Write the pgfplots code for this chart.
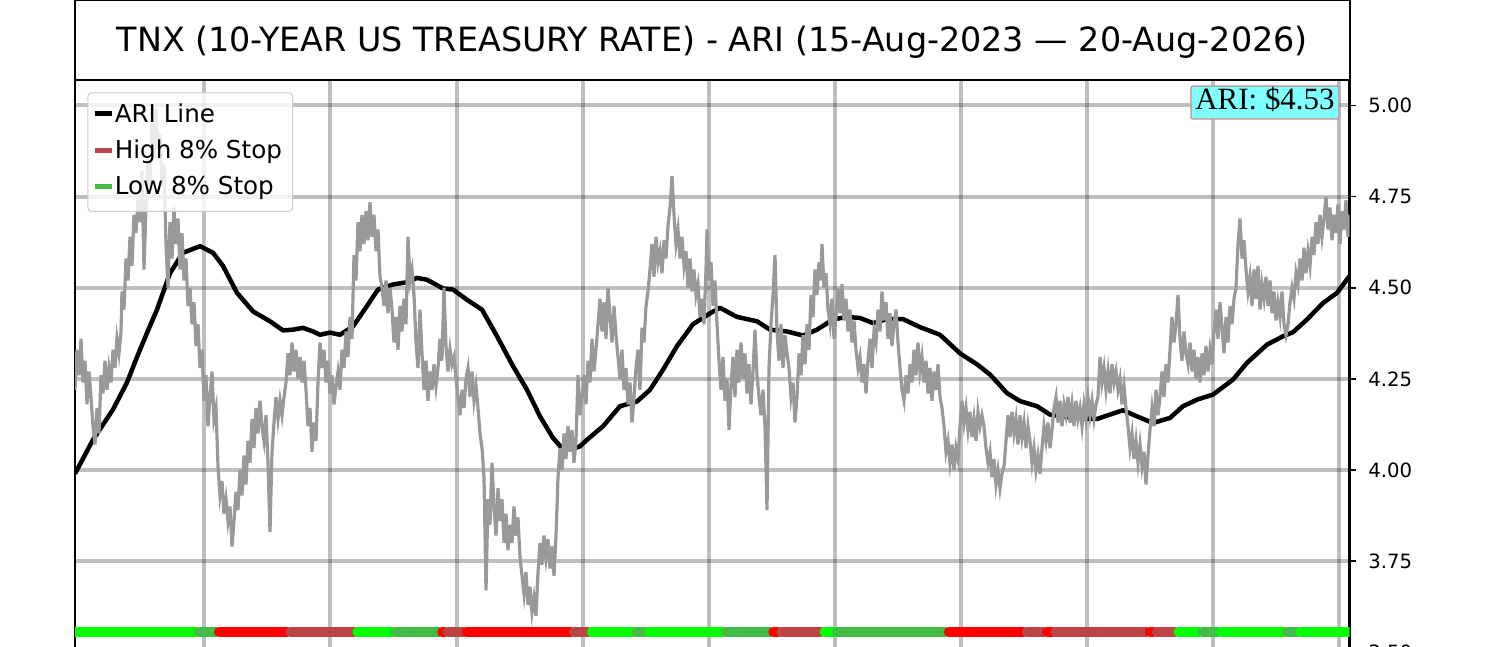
\documentclass[border=0pt]{standalone}
\usepackage{fontspec}
\setmainfont{DejaVu Sans}
\newfontfamily\serifont{Liberation Serif}
\usepackage{pgfplots}
\pgfplotsset{compat=1.18}
\definecolor{brownred}{HTML}{BB4444}
\definecolor{dkgreen}{HTML}{44BB44}
\definecolor{ltgreen}{HTML}{00FF00}
\definecolor{grayline}{HTML}{999999}
\definecolor{labelfill}{HTML}{80FFFF}
\definecolor{labeledge}{HTML}{C88C8C}
\definecolor{legedge}{HTML}{CCCCCC}
\begin{document}
\begin{tikzpicture}
\useasboundingbox (0,0) rectangle (15,6.47);
\draw[line width=0.02cm] (0.75,5.67) rectangle (13.495,6.47);
\node[font=\fontsize{9.5}{11}\selectfont, anchor=center, inner sep=0pt] at (7.1225,6.05) {TNX (10-YEAR US TREASURY RATE) - ARI (15-Aug-2023 — 20-Aug-2026)};
\begin{axis}[
  at={(0.75cm,5.67cm)}, anchor=north west,
  scale only axis, width=12.745cm, height=5.905cm,
  xmin=0, xmax=1274.5, ymin=3.45, ymax=5.07,
  axis line style={line width=0.022cm, black},
  ytick={3.5,3.75,4,4.25,4.5,4.75,5},
  yticklabel pos=right, ytick pos=right,
  tick align=outside, major tick length=0.065cm,
  ytick style={line width=0.015cm, black},
  xtick={129.3,255.4,381.5,507.6,633.7,759.8,885.9,1012.0,1138.1,1264.2},
  xticklabels={}, xtick style={draw=none},
  grid=major, major grid style={line width=0.04cm, black, opacity=0.25},
  yticklabel style={font=\fontsize{5.6}{6}\selectfont},
  /pgf/number format/fixed, /pgf/number format/fixed zerofill,
  /pgf/number format/precision=2, /pgf/number format/assume math mode=true,
  legend cell align=left,
  legend image code/.code={\draw[#1, line width=0.05cm] (0cm,0.02cm) -- (0.17cm,0.02cm);},
  legend style={at={(0.00965,0.9792)}, anchor=north west, draw=legedge, line width=0.01cm,
    fill=white, fill opacity=0.8, draw opacity=1, text opacity=1, rounded corners=0.04cm,
    inner xsep=0.05cm, inner ysep=0.115cm, row sep=0.133cm,
    font=\fontsize{7}{8}\selectfont,
    nodes={inner xsep=0cm, inner ysep=0pt, text height=0.18cm, text depth=0.05cm}},
]
% stop band
\addplot[forget plot, ltgreen, line width=0.1cm, line cap=round] coordinates {(-5,3.556)(121,3.556)};
\addplot[forget plot, dkgreen, line width=0.1cm, line cap=round] coordinates {(124,3.556)(141,3.556)};
\addplot[forget plot, red, line width=0.1cm, line cap=round] coordinates {(144,3.556)(212.4,3.556)};
\addplot[forget plot, brownred, line width=0.1cm, line cap=round] coordinates {(215.4,3.556)(279.4,3.556)};
\addplot[forget plot, ltgreen, line width=0.1cm, line cap=round] coordinates {(282.4,3.556)(317.4,3.556)};
\addplot[forget plot, dkgreen, line width=0.1cm, line cap=round] coordinates {(320.4,3.556)(364.2,3.556)};
\addplot[forget plot, red, line width=0.1cm, line cap=round] coordinates {(367.2,3.556)(370,3.556)};
\addplot[forget plot, brownred, line width=0.1cm, line cap=round] coordinates {(373,3.556)(388.8,3.556)};
\addplot[forget plot, red, line width=0.1cm, line cap=round] coordinates {(391.8,3.556)(495.9,3.556)};
\addplot[forget plot, brownred, line width=0.1cm, line cap=round] coordinates {(498.9,3.556)(513.8,3.556)};
\addplot[forget plot, ltgreen, line width=0.1cm, line cap=round] coordinates {(516.8,3.556)(558.4,3.556)};
\addplot[forget plot, dkgreen, line width=0.1cm, line cap=round] coordinates {(561.4,3.556)(571.8,3.556)};
\addplot[forget plot, ltgreen, line width=0.1cm, line cap=round] coordinates {(574.8,3.556)(647.7,3.556)};
\addplot[forget plot, dkgreen, line width=0.1cm, line cap=round] coordinates {(650.7,3.556)(695.2,3.556)};
\addplot[forget plot, red, line width=0.1cm, line cap=round] coordinates {(698.2,3.556)(703.3,3.556)};
\addplot[forget plot, brownred, line width=0.1cm, line cap=round] coordinates {(706.3,3.556)(746.4,3.556)};
\addplot[forget plot, ltgreen, line width=0.1cm, line cap=round] coordinates {(749.4,3.556)(759.3,3.556)};
\addplot[forget plot, dkgreen, line width=0.1cm, line cap=round] coordinates {(762.3,3.556)(870.8,3.556)};
\addplot[forget plot, red, line width=0.1cm, line cap=round] coordinates {(873.8,3.556)(948.8,3.556)};
\addplot[forget plot, brownred, line width=0.1cm, line cap=round] coordinates {(951.8,3.556)(968.9,3.556)};
\addplot[forget plot, red, line width=0.1cm, line cap=round] coordinates {(971.9,3.556)(977.5,3.556)};
\addplot[forget plot, brownred, line width=0.1cm, line cap=round] coordinates {(980.5,3.556)(1071.7,3.556)};
\addplot[forget plot, red, line width=0.1cm, line cap=round] coordinates {(1074.7,3.556)(1078.9,3.556)};
\addplot[forget plot, brownred, line width=0.1cm, line cap=round] coordinates {(1081.9,3.556)(1100.4,3.556)};
\addplot[forget plot, ltgreen, line width=0.1cm, line cap=round] coordinates {(1103.4,3.556)(1124.4,3.556)};
\addplot[forget plot, dkgreen, line width=0.1cm, line cap=round] coordinates {(1127.4,3.556)(1143.5,3.556)};
\addplot[forget plot, ltgreen, line width=0.1cm, line cap=round] coordinates {(1146.5,3.556)(1209,3.556)};
\addplot[forget plot, dkgreen, line width=0.1cm, line cap=round] coordinates {(1212,3.556)(1222.5,3.556)};
\addplot[forget plot, ltgreen, line width=0.1cm, line cap=round] coordinates {(1225.5,3.556)(1285,3.556)};
% ARI line
\addplot[black, line width=0.045cm, line join=round] coordinates {
(0,3.99)(18,4.083)(38,4.166)(52,4.24)(62,4.31)(72,4.376)(82,4.44)(95,4.54)(108,4.596)(125,4.614)(138,4.596)(148,4.56)(162,4.486)(178,4.435)(195,4.408)(208,4.383)(218,4.385)(228,4.39)(238,4.38)(245,4.371)(255,4.377)(265,4.371)(278,4.394)(292,4.45)(303,4.495)(318,4.509)(332,4.515)(342,4.527)(352,4.522)(368,4.498)(378,4.495)(392,4.467)(407,4.44)(422,4.367)(438,4.285)(452,4.22)(465,4.147)(478,4.088)(487,4.06)(495,4.056)(505,4.065)(512,4.083)(528,4.12)(545,4.175)(562,4.188)(575,4.22)(588,4.275)(602,4.34)(618,4.40)(635,4.43)(645,4.445)(662,4.42)(682,4.408)(695,4.385)(712,4.38)(728,4.369)(742,4.385)(758,4.413)(772,4.42)(785,4.417)(798,4.403)(812,4.414)(828,4.414)(845,4.392)(865,4.371)(885,4.32)(902,4.29)(915,4.262)(932,4.211)(945,4.189)(962,4.175)(975,4.152)(992,4.145)(1005,4.142)(1022,4.14)(1035,4.152)(1048,4.164)(1062,4.147)(1078,4.129)(1095,4.143)(1108,4.175)(1122,4.193)(1138,4.207)(1158,4.248)(1172,4.294)(1192,4.344)(1208,4.367)(1218,4.378)(1232,4.413)(1248,4.458)(1262,4.486)(1274.5,4.532)};
\addlegendentry{ARI Line}
\addlegendimage{brownred}
\addlegendentry{High 8\% Stop\hspace*{0.057cm}}
\addlegendimage{dkgreen}
\addlegendentry{Low 8\% Stop}
% TNX series
\addplot[forget plot, grayline, line width=0.032cm] coordinates {
(0,4.22)(2,4.33)(4,4.26)(6,4.36)(8,4.24)(10,4.30)(12,4.18)(14,4.27)(16,4.20)(18,4.12)(20,4.07)(22,4.17)(24,4.10)(26,4.26)(28,4.21)(30,4.30)(32,4.22)(34,4.28)(36,4.24)(38,4.33)(40,4.28)(42,4.36)(44,4.32)(46,4.38)(47,4.49)(49,4.44)(51,4.58)(53,4.52)(55,4.64)(57,4.56)(59,4.70)(61,4.65)(63,4.74)(65,4.68)(67,4.82)(69,4.55)(71,4.72)(73,4.86)(75,4.78)(77,4.95)(79,4.85)(81,4.99)(83,4.88)(85,4.92)(87,4.78)(89,4.84)(91,4.62)(93,4.50)(95,4.68)(97,4.58)(99,4.72)(101,4.62)(103,4.69)(105,4.55)(107,4.65)(109,4.52)(111,4.58)(113,4.45)(115,4.50)(117,4.40)(119,4.46)(121,4.34)(123,4.40)(125,4.28)(127,4.33)(129,4.19)(131,4.26)(133,4.12)(135,4.20)(137,4.27)(139,4.14)(141,4.17)(143,4.01)(145,3.93)(147,3.97)(149,3.88)(151,3.92)(153,3.86)(155,3.90)(157,3.79)(159,3.86)(161,3.94)(163,3.89)(165,4.00)(167,3.93)(169,4.04)(171,3.96)(173,4.08)(175,4.02)(177,4.14)(179,4.06)(181,4.17)(183,4.10)(185,4.19)(187,4.12)(189,4.08)(191,4.15)(193,4.02)(195,3.83)(197,4.05)(199,4.13)(201,4.20)(203,4.14)(205,4.19)(207,4.15)(209,4.20)(211,4.24)(213,4.32)(215,4.26)(217,4.35)(219,4.27)(221,4.33)(223,4.25)(225,4.31)(227,4.24)(229,4.30)(231,4.22)(233,4.12)(235,4.17)(237,4.05)(239,4.13)(241,4.08)(243,4.24)(245,4.35)
(247,4.28)(249,4.33)(251,4.24)(253,4.30)(255,4.21)(257,4.26)(259,4.18)(261,4.23)(263,4.27)(265,4.22)(267,4.33)(269,4.28)(271,4.38)(273,4.31)(275,4.42)(277,4.36)(279,4.59)(281,4.52)(283,4.68)(285,4.60)(287,4.70)(289,4.62)(291,4.71)(293,4.63)(295,4.735)(297,4.64)(299,4.70)(301,4.60)(303,4.66)(305,4.53)(307,4.50)(309,4.45)(311,4.52)(313,4.43)(315,4.50)(317,4.44)(319,4.35)(321,4.42)(323,4.33)(325,4.45)(327,4.38)(329,4.47)(331,4.40)(333,4.64)(335,4.52)(337,4.55)(339,4.48)(341,4.35)(343,4.28)(345,4.44)(347,4.32)(349,4.22)(351,4.30)(353,4.19)(355,4.27)(357,4.22)(359,4.29)(361,4.23)(363,4.28)(365,4.36)(367,4.30)(369,4.50)(371,4.34)(373,4.27)(375,4.33)(377,4.29)(379,4.31)(381,4.25)(383,4.20)(385,4.15)(387,4.22)(389,4.17)(391,4.25)(393,4.28)(395,4.20)(397,4.27)(399,4.19)(401,4.23)(403,4.17)(405,4.10)(407,4.06)(409,3.98)(411,3.67)(413,3.92)(415,3.85)(417,4.02)(419,3.90)(421,3.82)(423,3.95)(425,3.86)(427,3.92)(429,3.80)(431,3.88)(433,3.78)(435,3.85)(437,3.80)(439,3.90)(441,3.82)(443,3.87)(445,3.76)(447,3.71)(449,3.66)(451,3.72)(453,3.63)(455,3.68)(457,3.61)(459,3.65)(461,3.60)(463,3.72)(465,3.80)(467,3.74)(469,3.82)(471,3.76)(473,3.81)(475,3.73)(477,3.79)(479,3.71)(481,3.82)(483,3.98)(485,4.06)(487,4.00)(489,4.10)(491,4.03)(493,4.12)(495,4.05)(497,4.11)(499,4.02)(501,4.08)(503,4.26)(505,4.15)
(507,4.20)(509,4.26)(511,4.18)(513,4.30)(515,4.24)(517,4.36)(519,4.27)(521,4.33)(523,4.40)(525,4.47)(527,4.38)(529,4.46)(531,4.36)(533,4.50)(535,4.42)(537,4.35)(539,4.45)(541,4.37)(543,4.31)(545,4.25)(547,4.33)(549,4.22)(551,4.28)(553,4.18)(555,4.24)(557,4.13)(559,4.20)(561,4.28)(563,4.33)(565,4.22)(567,4.39)(569,4.35)(571,4.45)(573,4.49)(575,4.55)(577,4.62)(579,4.53)(581,4.64)(583,4.57)(585,4.60)(587,4.54)(589,4.63)(591,4.58)(593,4.67)(595,4.72)(597,4.806)(599,4.70)(601,4.62)(603,4.66)(605,4.58)(607,4.64)(609,4.56)(611,4.60)(613,4.50)(615,4.58)(617,4.49)(619,4.55)(621,4.48)(623,4.51)(625,4.42)(627,4.47)(629,4.40)(631,4.55)(632,4.66)(634,4.52)(636,4.57)(638,4.45)(640,4.52)(642,4.40)(644,4.30)(646,4.22)(648,4.31)(650,4.19)(652,4.25)(654,4.11)(656,4.23)(658,4.31)(660,4.20)(662,4.33)(664,4.24)(666,4.35)(668,4.25)(670,4.32)(672,4.21)(674,4.29)(676,4.18)(678,4.27)(680,4.385)(682,4.26)(684,4.20)(686,4.15)(688,4.22)(690,4.12)(692,3.89)(694,4.28)(696,4.40)(698,4.48)(700,4.59)(702,4.38)(704,4.30)(706,4.40)(708,4.28)(710,4.37)(712,4.32)(714,4.28)(716,4.20)(718,4.24)(720,4.13)(722,4.20)(724,4.32)(726,4.26)(728,4.37)(730,4.29)(732,4.40)(734,4.33)(736,4.48)(738,4.42)(740,4.55)(742,4.48)(744,4.57)(746,4.52)(747,4.62)(749,4.50)(751,4.54)(753,4.44)
(755,4.40)(757,4.47)(759,4.36)(761,4.42)(763,4.50)(765,4.43)(767,4.51)(769,4.41)(771,4.47)(773,4.38)(775,4.44)(777,4.35)(779,4.41)(781,4.33)(783,4.28)(785,4.31)(787,4.24)(789,4.29)(791,4.21)(793,4.30)(795,4.36)(797,4.28)(799,4.38)(801,4.35)(803,4.44)(805,4.38)(807,4.49)(809,4.41)(811,4.46)(813,4.36)(815,4.43)(817,4.34)(819,4.40)(821,4.44)(823,4.35)(825,4.28)(827,4.22)(829,4.19)(831,4.26)(833,4.21)(835,4.29)(837,4.24)(839,4.33)(841,4.26)(843,4.35)(845,4.27)(847,4.31)(849,4.24)(851,4.30)(853,4.21)(855,4.28)(857,4.19)(859,4.27)(861,4.22)(863,4.29)(865,4.20)(867,4.17)(869,4.12)(871,4.05)(873,4.08)(875,4.02)(877,4.07)(879,4.00)(881,4.06)(883,4.03)(885,4.12)(887,4.19)(889,4.13)(891,4.17)(893,4.11)(895,4.16)(897,4.09)(899,4.14)(901,4.08)(903,4.16)(905,4.12)(907,4.15)(909,4.12)(911,4.06)(913,4.02)(915,4.05)(917,3.98)(919,4.03)(921,3.96)(923,4.00)(925,3.95)(927,3.99)(929,4.01)(931,4.08)(933,4.15)(935,4.09)(937,4.16)(939,4.10)(941,4.14)(943,4.07)(945,4.15)(947,4.09)(949,4.13)(951,4.06)(953,4.12)(955,4.08)(957,4.02)(959,4.06)(961,4.00)(963,4.04)(965,3.99)(967,4.06)(969,4.12)(971,4.08)(973,4.13)(975,4.06)(977,4.11)(979,4.17)(981,4.20)(983,4.13)(985,4.19)(987,4.12)(989,4.18)(991,4.15)(993,4.20)(995,4.13)(997,4.18)(999,4.12)(1001,4.19)(1003,4.14)(1005,4.17)
(1007,4.12)(1009,4.18)(1011,4.14)(1013,4.20)(1015,4.15)(1017,4.19)(1019,4.14)(1021,4.18)(1023,4.20)(1025,4.31)(1027,4.24)(1029,4.28)(1031,4.22)(1033,4.27)(1035,4.21)(1037,4.29)(1039,4.24)(1041,4.27)(1043,4.22)(1045,4.25)(1047,4.18)(1049,4.23)(1051,4.17)(1053,4.12)(1055,4.06)(1057,4.10)(1059,4.03)(1061,4.08)(1063,4.02)(1065,4.07)(1067,4.01)(1069,4.05)(1071,3.96)(1073,4.04)(1075,4.11)(1077,4.17)(1079,4.12)(1081,4.22)(1083,4.15)(1085,4.20)(1087,4.27)(1089,4.20)(1091,4.29)(1093,4.24)(1095,4.33)(1097,4.42)(1099,4.35)(1101,4.40)(1103,4.48)(1105,4.36)(1107,4.30)(1109,4.38)(1111,4.32)(1113,4.29)(1115,4.35)(1117,4.27)(1119,4.33)(1121,4.25)(1123,4.31)(1125,4.24)(1127,4.32)(1129,4.26)(1131,4.34)(1133,4.27)(1135,4.33)(1137,4.29)(1139,4.38)(1141,4.44)(1143,4.36)(1145,4.46)(1147,4.39)(1149,4.32)(1151,4.42)(1153,4.35)(1155,4.45)(1157,4.40)(1159,4.47)(1161,4.50)(1163,4.62)(1165,4.69)(1167,4.58)(1169,4.63)(1171,4.55)(1173,4.49)(1175,4.53)(1177,4.45)(1179,4.55)(1181,4.47)(1183,4.56)(1185,4.44)(1187,4.51)(1189,4.47)(1191,4.53)(1193,4.45)(1195,4.52)(1197,4.43)(1199,4.49)(1201,4.41)(1203,4.46)(1205,4.42)(1207,4.49)(1209,4.40)(1211,4.37)(1213,4.40)(1215,4.46)(1217,4.50)(1219,4.47)(1221,4.54)(1223,4.51)(1225,4.58)(1227,4.52)(1229,4.61)(1231,4.54)(1233,4.60)(1235,4.56)(1237,4.64)(1239,4.59)(1241,4.68)(1243,4.62)(1245,4.70)(1247,4.64)(1249,4.69)(1251,4.75)(1253,4.66)(1255,4.72)(1257,4.63)(1259,4.70)(1261,4.65)(1263,4.73)(1265,4.62)(1267,4.71)(1269,4.66)(1271,4.74)(1273,4.64)(1275,4.70)};
\end{axis}
\node[font=\serifont\fontsize{8.8}{10}\selectfont, fill=labelfill, draw=labeledge, line width=0.012cm, rounded corners=0.02cm, minimum width=1.48cm, minimum height=0.33cm, inner sep=0pt, text height=0.21cm, text depth=0.06cm] at (12.65,5.445) {ARI: \$4.53};
\end{tikzpicture}
\end{document}
